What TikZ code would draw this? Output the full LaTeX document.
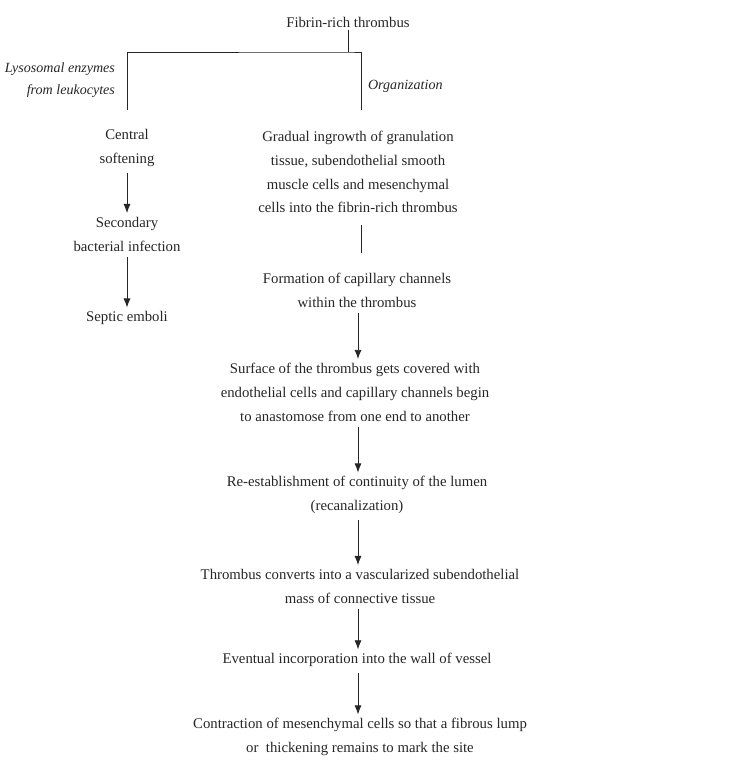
\documentclass[tikz,border=0pt]{standalone}
\usepackage{fontspec}
\setmainfont{Liberation Serif}
\usetikzlibrary{arrows.meta,positioning}

\tikzset{
  step text/.style={align=center, inner sep=2pt, text=black!85},
  branch/.style={font=\fontsize{10}{16}\selectfont\itshape, inner sep=2pt, text=black!85},
  link/.style={black!85, line width=0.6pt},
  flow/.style={link, -{Latex[length=6.5pt,width=5pt]}, shorten <=2pt, shorten >=0.5pt},
}

\begin{document}
\begin{tikzpicture}[font=\fontsize{10.5}{17}\selectfont]
  \useasboundingbox (0,0) rectangle (18.7,-19.05);

  % root and the split
  \node[step text] (root) at (8.7,-0.55) {Fibrin-rich thrombus};
  \coordinate (bar) at (8.7,-1.3);
  \coordinate (lend) at (3.175,-2.75);
  \coordinate (rend) at (9.025,-2.75);
  \draw[link] (root.south) -- (bar);
  \draw[link] (lend) |- (bar) -| (rend);

  \node[branch, align=right, anchor=east] (lyso) at (2.95,-2.0) {Lysosomal enzymes\\from leukocytes};
  \node[branch, anchor=west] (org) at (9.125,-2.15) {Organization};

  % left chain
  \node[step text] (soft) at (3.175,-3.7) {Central\\softening};
  \node[step text] (infect) at (3.175,-5.85) {Secondary\\bacterial infection};
  \node[step text] (emboli) at (3.175,-7.95) {Septic emboli};

  \draw[flow] (soft.south) -- (infect.north);
  \draw[flow] (infect.south) -- (emboli.north);

  % right chain
  \node[step text] (ingrowth) at (8.95,-4.3) {Gradual ingrowth of granulation\\tissue, subendothelial smooth\\muscle cells and mesenchymal\\cells into the fibrin-rich thrombus};
  \node[step text] (capil) at (8.925,-7.25) {Formation of capillary channels\\within the thrombus};
  \node[step text] (surface) at (8.875,-9.8) {Surface of the thrombus gets covered with\\endothelial cells and capillary channels begin\\to anastomose from one end to another};
  \node[step text] (lumen) at (8.925,-12.375) {Re-establishment of continuity of the lumen\\(recanalization)};
  \node[step text] (mass) at (9.0,-14.65) {Thrombus converts into a vascularized subendothelial\\mass of connective tissue};
  \node[step text] (wall) at (8.925,-16.5) {Eventual incorporation into the wall of vessel};
  \node[step text] (lump) at (9.0,-18.425) {Contraction of mesenchymal cells so that a fibrous lump\\or\ \ thickening remains to mark the site};

  \draw[link, shorten <=6pt, shorten >=12pt] (ingrowth.south -| rend) -- (capil.north -| rend);
  \draw[flow] (capil.south -| 8.95,0) -- (surface.north -| 8.95,0);
  \draw[flow] (surface.south -| 8.95,0) -- (lumen.north -| 8.95,0);
  \draw[flow] (lumen.south -| 8.95,0) -- (mass.north -| 8.95,0);
  \draw[flow] (mass.south -| 8.95,0) -- (wall.north -| 8.95,0);
  \draw[flow] (wall.south -| 8.95,0) -- (lump.north -| 8.95,0);
\end{tikzpicture}
\end{document}
